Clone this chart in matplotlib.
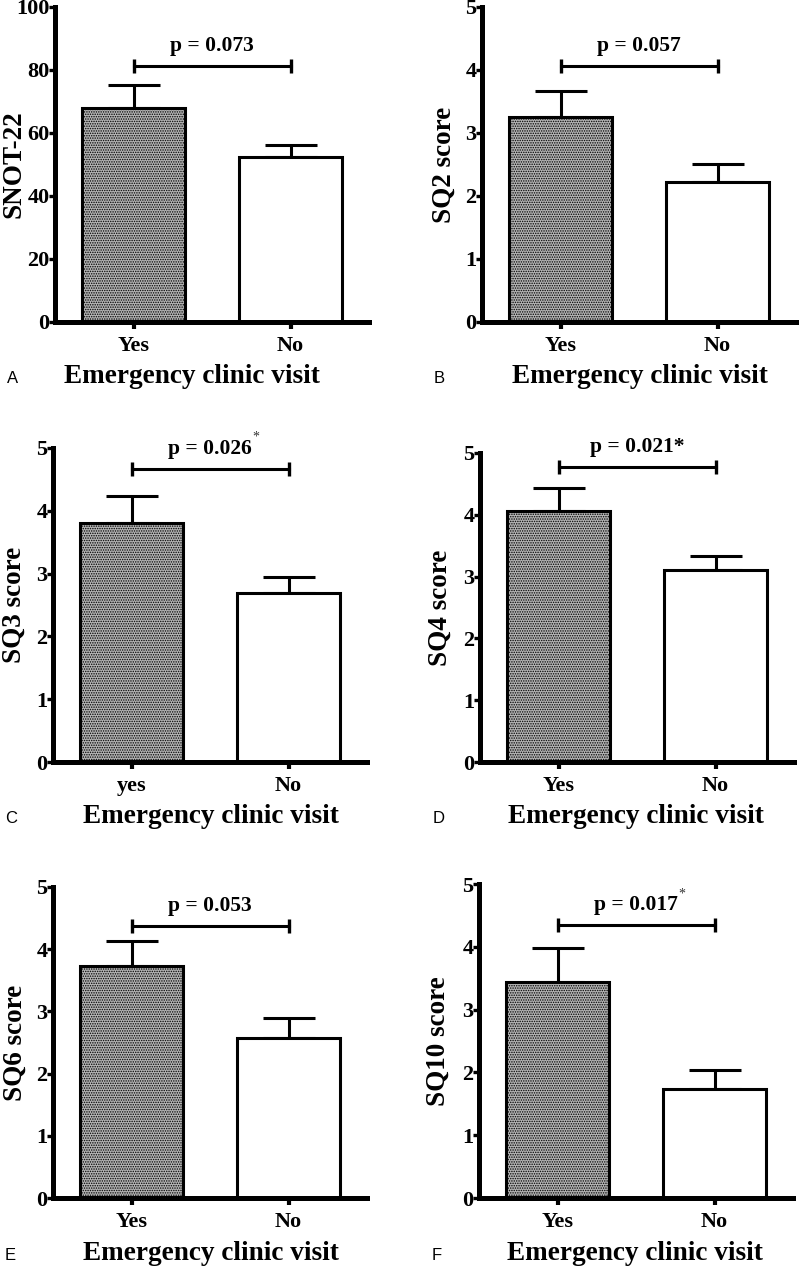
import matplotlib
matplotlib.use("Agg")
import matplotlib.pyplot as plt

# values (mean and upper error bar)
ylabels = ["SNOT-22", "SQ2 score", "SQ3 score", "SQ4 score", "SQ6 score", "SQ10 score"]
yes_means = [68.0, 3.25, 3.81, 4.06, 3.73, 3.44]
yes_err = [7.3, 0.42, 0.43, 0.37, 0.40, 0.54]
no_means = [52.4, 2.22, 2.69, 3.11, 2.57, 1.74]
no_err = [3.8, 0.28, 0.26, 0.22, 0.32, 0.30]
p_texts = ["p = 0.073", "p = 0.057", "p = 0.026", "p = 0.021*", "p = 0.053", "p = 0.017"]
p_super = [False, False, True, False, False, True]
bracket_y = [81.3, 4.06, 4.67, 4.77, 4.37, 4.35]
y_max = [100, 5, 5, 5, 5, 5]
y_step = [20, 1, 1, 1, 1, 1]
group_labels = [["Yes", "No"], ["Yes", "No"], ["yes", "No"],
                ["Yes", "No"], ["Yes", "No"], ["Yes", "No"]]
letters = ["A", "B", "C", "D", "E", "F"]
xlabel = "Emergency clinic visit"

# layout in pixels: left of y axis, top of y axis, zero line
W, H = 800, 1269
boxes = [(55, 7, 322), (482, 7, 322), (53, 448, 762),
         (480, 453, 762), (53, 887, 1198), (479, 884, 1198)]
xlabel_cx = [192, 640, 211, 636, 211, 635]
xlabel_base = [383, 383, 823, 823, 1260, 1260]
letter_x = [7, 434, 5, 433, 5, 432]
ylab_x = [-0.09, -0.082, -0.085, -0.086, -0.082, -0.089]

serif = "Liberation Serif"
plt.rcParams["hatch.color"] = "#6a6a6a"
plt.rcParams["hatch.linewidth"] = 0.7

fig = plt.figure(figsize=(W / 100, H / 100), dpi=100)

for i in range(6):
    left, top, zero = boxes[i]
    ax = fig.add_axes([left / W, 1 - zero / H, 314 / W, (zero - top) / H])
    x = [0, 1]
    ax.bar(0, yes_means[i], width=0.66, facecolor="#b4b4b4", hatch=".......",
           edgecolor="black", linewidth=2.2, zorder=2)
    ax.bar(1, no_means[i], width=0.66, facecolor="white",
           edgecolor="black", linewidth=2.2, zorder=2)
    ax.errorbar(x, [yes_means[i], no_means[i]],
                yerr=[[0, 0], [yes_err[i], no_err[i]]],
                fmt="none", ecolor="black", elinewidth=2.2,
                capsize=19, capthick=2.2, zorder=1)

    # significance bracket
    ax.plot(x, [bracket_y[i]] * 2, color="black", lw=2.2,
            marker="|", ms=10, mew=2.4, clip_on=False)
    t = ax.annotate(p_texts[i], xy=(0.5, bracket_y[i]), xytext=(0, 7),
                    textcoords="offset points", ha="center", va="bottom",
                    fontsize=15.5, fontweight="bold", family=serif)
    if p_super[i]:
        ax.annotate("*", xy=(1, 0.75), xycoords=t, ha="left", va="bottom",
                    fontsize=10, family=serif, color="#333333")

    ax.set_xlim(-0.5, 1.5)
    ax.set_ylim(0, y_max[i])
    ax.set_yticks([k * y_step[i] for k in range(6)])
    ax.set_xticks(x)
    ax.set_xticklabels(group_labels[i])
    for s in ["top", "right"]:
        ax.spines[s].set_visible(False)
    for s in ["left", "bottom"]:
        ax.spines[s].set_linewidth(3.6)
    ax.tick_params(axis="y", direction="out", length=4, width=2.4, pad=0)
    ax.tick_params(axis="x", direction="out", length=5, width=3, pad=5)
    for lab in ax.get_xticklabels() + ax.get_yticklabels():
        lab.set_fontfamily(serif)
        lab.set_fontweight("bold")
        lab.set_fontsize(16)
    ax.set_ylabel(ylabels[i], fontsize=19.5, fontweight="bold", family=serif)
    ax.yaxis.set_label_coords(ylab_x[i], 0.5)

    fig.text(xlabel_cx[i] / W, 1 - xlabel_base[i] / H, xlabel, ha="center",
             va="baseline", fontsize=19.6, fontweight="bold", family=serif)
    fig.text(letter_x[i] / W, 1 - xlabel_base[i] / H, letters[i], ha="left",
             va="baseline", fontsize=12, family="Liberation Sans")

fig.savefig("out.png", dpi=100, facecolor="white")
